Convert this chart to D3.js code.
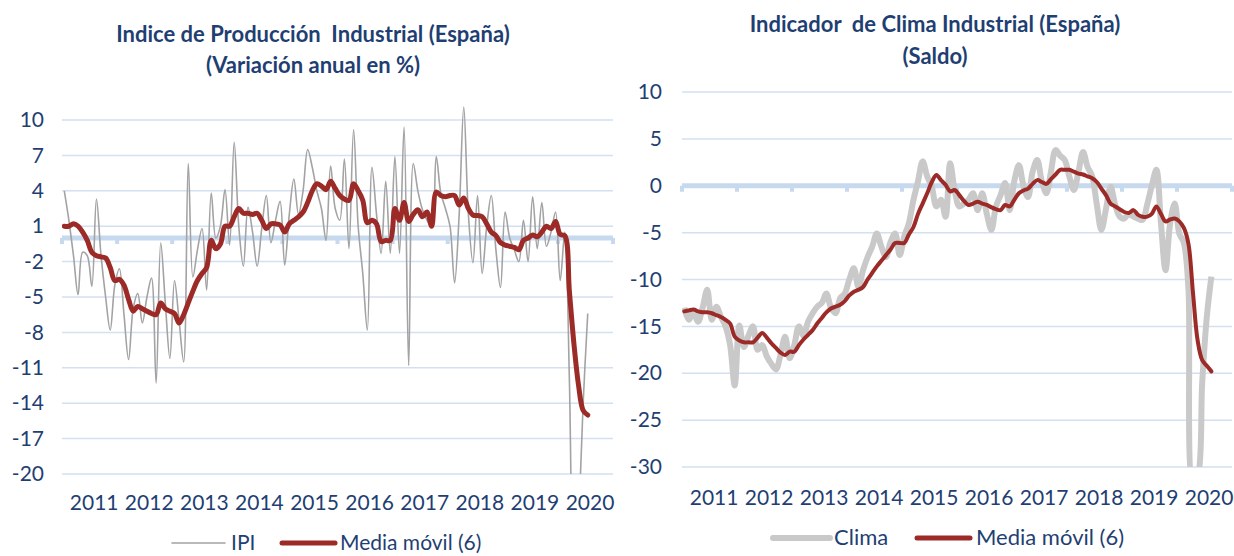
<!DOCTYPE html>
<html>
<head>
<meta charset="utf-8">
<script src="https://cdn.jsdelivr.net/npm/d3@7"></script>
<style>
  body { margin: 0; background: #fff; }
  svg { display: block; font-family: Lato, "Open Sans", sans-serif; }
  text.title { white-space: pre; }
</style>
</head>
<body>
<svg id="svg"></svg>
<script>
// ---------------------------------------------------------------- data

// months from Jan 2011 to Dec 2020 on the axis
const nMonths = 120;
const years = ["2011","2012","2013","2014","2015","2016","2017","2018","2019","2020"];

// IPI, annual variation in %, Jan 2011 - Jul 2020
const ipi = [
	4.0, 1.5, -1.5, -4.8, -1.2, -1.5, -4.1, 3.3, -1.5, -5.0, -7.8, -4.0,
	-2.6, -6.5, -10.3, -6.0, -4.7, -7.2, -5.0, -3.4, -12.3, -0.4, -5.5, -10.2,
	-3.6, -7.0, -10.5, 6.3, -3.3, -1.0, 0.8, -4.4, 3.8, 0.0, 1.0, 4.1,
	-0.6, 8.1, 1.0, -2.4, 2.6, 0.5, -2.4, 0.8, 3.6, -0.4, 1.5, 3.1,
	-2.3, 2.0, 5.0, 2.0, 4.0, 7.5, 6.0, 4.0, 2.5, -0.2, 6.1, 2.5,
	1.5, 6.7, -0.9, 9.2, 1.0, -3.0, -7.8, 6.0, 2.0, -1.3, 4.8, -1.3,
	6.9, -1.3, 9.4, -10.8, 6.3, 4.0, 2.4, 1.5, 1.0, 6.9, 3.8, 2.5,
	1.0, -3.8, 2.0, 11.1, 2.0, -2.1, 3.6, -3.0, 1.0, 3.6, -1.0, -4.2,
	2.2, 0.0, -1.0, -2.0, 1.5, -2.0, 3.5, -0.9, 3.0, -0.7, 0.5, 2.2,
	-3.6, 0.5, -12.0, -33.6, -24.5, -14.0, -6.4
];
const ipiMA = [
	1.0, 1.0, 1.2, 1.0, 0.5, -0.2, -1.2, -1.5, -1.6, -1.7, -2.5, -3.6,
	-3.5, -4.0, -5.2, -6.2, -5.8, -6.0, -6.2, -6.4, -6.5, -5.5, -6.0, -6.2,
	-6.4, -7.2, -6.5, -5.5, -4.5, -3.6, -3.0, -2.5, -0.2, -0.9, -0.5, 1.0,
	1.0, 1.8, 2.5, 2.1, 2.1, 2.0, 2.1, 1.5, 0.8, 1.2, 1.2, 1.1,
	0.5, 1.2, 1.5, 1.8, 2.2, 3.0, 4.0, 4.6, 4.4, 4.1, 4.8, 4.2,
	3.6, 3.3, 3.2, 4.6, 4.0, 3.2, 1.3, 1.5, 1.2, -0.3, -0.2, -0.2,
	2.5, 1.5, 3.0, 1.4, 2.0, 2.4, 1.8, 2.2, 1.0, 3.9, 3.6, 3.5,
	3.6, 3.6, 2.8, 3.4, 2.5, 1.95, 1.9, 1.8, 1.2, 0.5, 0.2, -0.4,
	-0.6, -0.7, -0.8, -1.0, -0.2, 0.0, 0.25, 0.1, 0.5, 1.0, 0.8, 1.4,
	0.3, 0.2, -4.5, -9.0, -12.5, -14.6, -15.0
];

// Clima industrial, saldo, Jan 2011 - Aug 2020
const clima = [
	-13.0, -14.3, -13.5, -14.5, -13.0, -11.1, -14.3, -12.9, -14.0, -15.0, -17.0, -21.3,
	-14.9, -17.2, -16.0, -15.0, -17.5, -17.0, -18.2, -19.0, -19.6, -18.0, -16.1, -18.4,
	-17.0, -15.0, -16.0, -14.5, -13.6, -12.9, -12.5, -11.5, -13.0, -13.6, -12.0, -11.5,
	-10.0, -8.8, -10.8, -9.0, -7.6, -6.5, -5.1, -6.5, -7.6, -6.0, -5.1, -7.4,
	-5.4, -4.0, -1.5, 0.5, 2.6, 1.0, -0.1, -2.2, -1.5, -3.3, 2.4, -0.5,
	-2.2, -1.9, -1.5, -0.8, -2.6, -0.8, -3.0, -4.7, -2.2, -1.0, 0.3, -2.6,
	0.5, 2.2, 0.0, -1.2, 1.5, 2.75, 0.5, -0.8, 1.5, 3.8, 3.2, 2.75,
	1.0, -0.45, 1.5, 3.6, 2.0, 1.0, -2.0, -4.7, -2.5, -0.1, -2.0, -3.3,
	-3.5, -3.0, -3.3, -3.5, -3.65, -2.0, 0.0, 1.7, -4.0, -9.0, -4.0, -1.9,
	-5.1, -6.1, -11.0, -31.5, -31.0, -21.0, -14.0, -9.7
];
const climaMA = [
	-13.4, -13.3, -13.2, -13.4, -13.5, -13.5, -13.6, -13.8, -14.0, -14.3, -14.7, -16.1,
	-16.5, -16.7, -16.7, -16.7, -16.2, -15.7, -16.2, -16.8, -17.3, -17.8, -18.05, -17.7,
	-17.7, -17.0, -16.4, -15.9, -15.4, -14.7, -14.1, -13.5, -13.1, -12.9, -12.7, -12.3,
	-11.7, -11.3, -11.1, -10.8, -10.0, -9.3, -8.6, -8.0, -7.4, -6.8, -6.1, -6.1,
	-6.1, -5.2, -4.4, -3.0, -1.9, -0.8, 0.4, 1.15, 0.6, 0.1, -0.6, -0.45,
	-1.0, -1.6, -2.05, -1.9, -1.7, -1.9, -2.05, -2.3, -2.5, -2.6, -2.05, -2.2,
	-1.5, -0.8, -0.5, -0.3, 0.2, 0.6, 0.4, 0.2, 0.7, 1.2, 1.7, 1.7,
	1.7, 1.5, 1.3, 1.2, 1.0, 0.8, 0.4, -0.3, -1.0, -1.9, -2.2, -2.5,
	-2.8, -2.9, -2.6, -3.1, -3.3, -3.3, -3.0, -2.2, -3.0, -3.8, -3.6, -3.5,
	-3.8, -4.5, -6.2, -11.5, -16.5, -18.6, -19.2, -19.8
];

const ipiTicks = [10, 7, 4, 1, -2, -5, -8, -11, -14, -17, -20];
const climaTicks = [10, 5, 0, -5, -10, -15, -20, -25, -30];

// ---------------------------------------------------------------- layout

const width = 1234,
	height = 556;

const navy = "#1f3f73",
	gridColor = "#d3e0f0",
	zeroColor = "#c6d9ef",
	red = "#9c2b28";

const svg = d3.select("svg#svg")
	.attr("width", width)
	.attr("height", height);

const panels = [
	{
		id: "ipi",
		title: ["Indice de Producción  Industrial (España)", "(Variación anual en %)"],
		titleX: 313, titleY: [42, 73],
		x0: 62, x1: 613,
		y0: 120, y1: 474,
		domain: [-20, 10],
		ticks: ipiTicks,
		tickRight: 44,
		yearY: 510,
		raw: ipi, ma: ipiMA,
		rawColor: "#a3a3a3", rawWidth: 1.6,
		maWidth: 5,
		clipTop: 95,
		legend: { y: 543, textY: 550, size: 21, raw: [172, 225], rawLabel: "IPI", rawText: 231, ma: [282, 335], maText: 340 }
	},
	{
		id: "clima",
		title: ["Indicador  de Clima Industrial (España)", "(Saldo)"],
		titleX: 935, titleY: [32, 64],
		x0: 682, x1: 1232,
		y0: 92, y1: 467,
		domain: [-30, 10],
		ticks: climaTicks,
		tickRight: 662,
		yearY: 505,
		raw: clima, ma: climaMA,
		rawColor: "#c9c9c9", rawWidth: 6,
		maWidth: 4,
		clipTop: 70,
		legend: { y: 538, textY: 545, size: 22, raw: [773, 830], rawLabel: "Clima", rawText: 834, ma: [917, 970], maText: 976 }
	}
];

// ---------------------------------------------------------------- draw

function drawPanel(p) {

	const g = svg.append("g").attr("class", p.id);

	const xScale = d3.scaleBand()
		.domain(d3.range(nMonths))
		.range([p.x0, p.x1])
		.padding(0);
	const xm = i => xScale(i) + xScale.bandwidth() / 2;

	const yScale = d3.scaleLinear()
		.domain(p.domain)
		.range([p.y1, p.y0]);

	// titles
	g.selectAll("text.title")
		.data(p.title)
		.enter()
		.append("text")
		.attr("class", "title")
		.attr("x", p.titleX)
		.attr("y", (d, i) => p.titleY[i])
		.attr("text-anchor", "middle")
		.attr("font-size", 22)
		.attr("font-weight", "bold")
		.attr("fill", navy)
		.text(d => d);

	// gridlines
	g.selectAll("line.grid")
		.data(p.ticks.filter(t => t !== 0))
		.enter()
		.append("line")
		.attr("class", "grid")
		.attr("x1", p.x0)
		.attr("x2", p.x1)
		.attr("y1", d => yScale(d))
		.attr("y2", d => yScale(d))
		.attr("stroke", gridColor)
		.attr("stroke-width", 1.5);

	// y labels
	const yAxis = d3.axisLeft(yScale)
		.tickValues(p.ticks)
		.tickFormat(d => String(d))
		.tickSize(0)
		.tickPadding(0);
	const ya = g.append("g")
		.attr("transform", `translate(${p.tickRight},0)`)
		.call(yAxis);
	ya.select(".domain").remove();
	ya.selectAll("text")
		.attr("font-size", 21)
		.attr("font-family", "Lato, sans-serif")
		.attr("fill", navy);

	// zero axis line with year tick marks
	const yz = yScale(0);
	g.append("line")
		.attr("x1", p.x0)
		.attr("x2", p.x1)
		.attr("y1", yz)
		.attr("y2", yz)
		.attr("stroke", zeroColor)
		.attr("stroke-width", 5);
	g.selectAll("rect.ytick")
		.data(d3.range(0, nMonths + 1, 12))
		.enter()
		.append("rect")
		.attr("class", "ytick")
		.attr("x", d => (d < nMonths ? xScale(d) : p.x1) - 2)
		.attr("y", yz)
		.attr("width", 4)
		.attr("height", 6)
		.attr("fill", zeroColor);

	// year labels
	g.selectAll("text.year")
		.data(years)
		.enter()
		.append("text")
		.attr("class", "year")
		.attr("x", (d, i) => xScale(i * 12 + 7))
		.attr("y", p.yearY)
		.attr("text-anchor", "middle")
		.attr("font-size", 21)
		.attr("fill", navy)
		.text(d => d);

	// clip
	svg.append("clipPath")
		.attr("id", "clip-" + p.id)
		.append("rect")
		.attr("x", p.x0)
		.attr("y", p.clipTop)
		.attr("width", p.x1 - p.x0)
		.attr("height", p.y1 - p.clipTop);

	const line = d3.line()
		.x((d, i) => xm(i))
		.y(d => yScale(d))
		.curve(d3.curveCatmullRom.alpha(0.5));

	const plot = g.append("g").attr("clip-path", `url(#clip-${p.id})`);

	plot.append("path")
		.datum(p.raw)
		.attr("d", line)
		.attr("fill", "none")
		.attr("stroke", p.rawColor)
		.attr("stroke-width", p.rawWidth)
		.attr("stroke-linejoin", "round");

	plot.append("path")
		.datum(p.ma)
		.attr("d", line)
		.attr("fill", "none")
		.attr("stroke", red)
		.attr("stroke-width", p.maWidth)
		.attr("stroke-linejoin", "round")
		.attr("stroke-linecap", "round");

	// legend
	const L = p.legend;
	g.append("line")
		.attr("x1", L.raw[0]).attr("x2", L.raw[1])
		.attr("y1", L.y).attr("y2", L.y)
		.attr("stroke", p.rawColor)
		.attr("stroke-width", p.rawWidth)
		.attr("stroke-linecap", "round");
	g.append("text")
		.attr("x", L.rawText)
		.attr("y", L.textY)
		.attr("font-size", L.size)
		.attr("fill", navy)
		.text(L.rawLabel);
	g.append("line")
		.attr("x1", L.ma[0]).attr("x2", L.ma[1])
		.attr("y1", L.y).attr("y2", L.y)
		.attr("stroke", red)
		.attr("stroke-width", 5)
		.attr("stroke-linecap", "round");
	g.append("text")
		.attr("x", L.maText)
		.attr("y", L.textY)
		.attr("font-size", L.size)
		.attr("fill", navy)
		.text("Media móvil (6)");
}

panels.forEach(drawPanel);
</script>
</body>
</html>
